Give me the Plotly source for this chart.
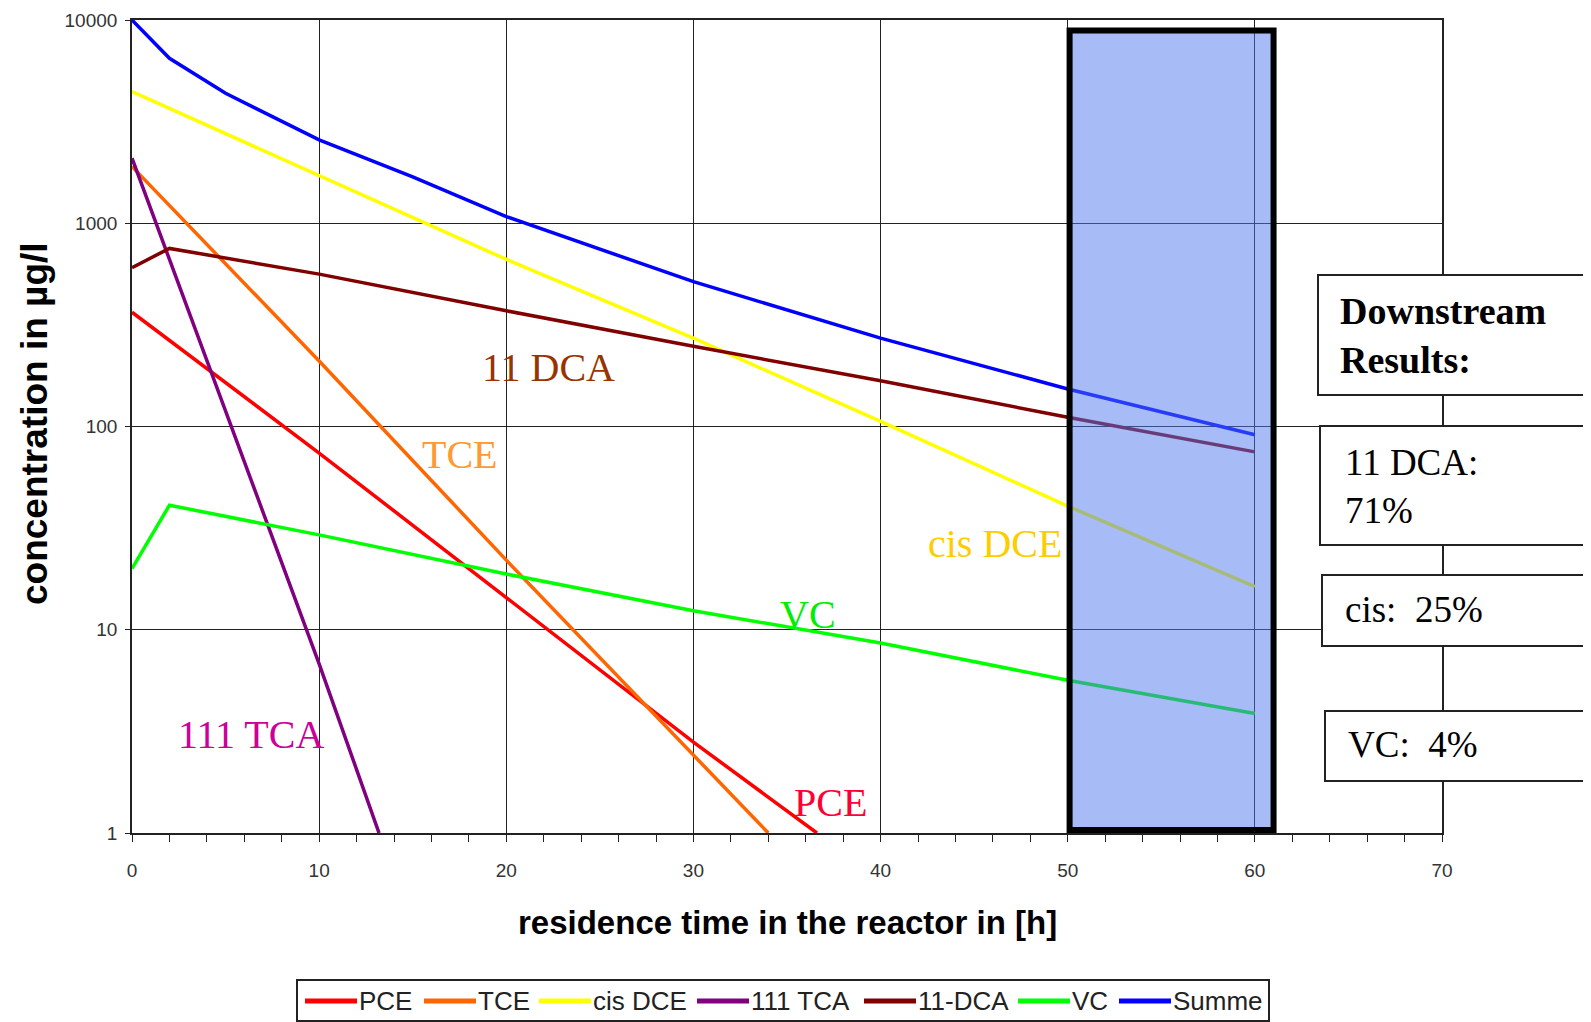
import plotly.graph_objects as go

# ---------------- data ----------------
pce_t = [0, 10, 20, 30, 36.6]
pce_c = [365, 74, 14.4, 2.8, 1.0]

tce_t = [0, 10, 20, 30, 34.0]
tce_c = [1900, 210, 22, 2.4, 1.0]

cis_t = [0, 10, 20, 30, 40, 50, 60]
cis_c = [4440, 1726, 664, 272, 106, 40.6, 16.3]

tca_t = [0, 5, 10, 13.2]
tca_c = [2090, 118, 6.8, 1.0]

dca_t = [0, 2, 10, 20, 30, 40, 50, 60]
dca_c = [605, 752, 562, 371, 248, 168, 111, 75]

vc_t = [0, 2, 10, 20, 30, 40, 50, 60]
vc_c = [20, 41, 29.3, 18.8, 12.4, 8.6, 5.64, 3.87]

sum_t = [0, 2, 5, 10, 15, 20, 30, 40, 50, 60]
sum_c = [10000, 6480, 4360, 2570, 1690, 1078, 516, 272, 153, 91]

series_names = ["PCE", "TCE", "cis DCE", "111 TCA", "11-DCA", "VC", "Summe"]
series_colors = ["#FF0000", "#FF6600", "#FFFF00", "#800080", "#800000", "#00FF00", "#0000FF"]

x_tick_vals = [0, 10, 20, 30, 40, 50, 60, 70]
y_tick_vals = [1, 10, 100, 1000, 10000]
y_tick_text = ["1", "10", "100", "1000", "10000"]

downstream_title = "Downstream<br>Results:"
result_texts = ["11 DCA:<br>71%", "cis:&nbsp;&nbsp;25%", "VC:&nbsp;&nbsp;4%"]

# ---------------- layout geometry ----------------
OFF = 8                       # page body margin of the html page
W, H = 1583, 1014
L, T = 124, 12
PW, PH = 1310, 813
R, B = W - L - PW, H - T - PH


def px(xp):
    """window pixel x -> paper x"""
    return (xp - OFF - L) / PW


def py(yp):
    """window pixel y -> paper y"""
    return (T + PH - (yp - OFF)) / PH


fig = go.Figure()
data = [(pce_t, pce_c), (tce_t, tce_c), (cis_t, cis_c), (tca_t, tca_c),
        (dca_t, dca_c), (vc_t, vc_c), (sum_t, sum_c)]
for (t, c), name, col in zip(data, series_names, series_colors):
    fig.add_trace(go.Scatter(x=t, y=c, mode="lines", name=name,
                             line=dict(color=col, width=3.5),
                             showlegend=False))

shapes = []
# downstream (shaded) zone
shapes.append(dict(type="rect", xref="x", yref="y", x0=50.1, x1=61.0, y0=1.035, y1=8870,
                   fillcolor="rgba(80,120,240,0.5)", line=dict(color="black", width=6),
                   layer="above"))

# result boxes on the right
boxes = [(1318, 1588, 275, 395), (1320, 1589, 426, 545), (1322, 1585, 575, 646), (1325, 1584, 711, 781)]
for x0, x1, y0, y1 in boxes:
    shapes.append(dict(type="rect", xref="paper", yref="paper", x0=px(x0), x1=px(x1),
                       y0=py(y1), y1=py(y0), fillcolor="white",
                       line=dict(color="#222", width=2), layer="above"))

annotations = []
serif = "Liberation Serif"
annotations.append(dict(xref="paper", yref="paper", x=px(1338), y=py(336), xanchor="left",
                        yanchor="middle", align="left", showarrow=False,
                        text="<b>" + downstream_title + "</b>",
                        font=dict(family=serif, size=38, color="black")))
annotations.append(dict(xref="paper", yref="paper", x=px(1343), y=py(486), xanchor="left",
                        yanchor="middle", align="left", showarrow=False, text=result_texts[0],
                        font=dict(family=serif, size=37, color="black")))
annotations.append(dict(xref="paper", yref="paper", x=px(1343), y=py(609), xanchor="left",
                        yanchor="middle", align="left", showarrow=False, text=result_texts[1],
                        font=dict(family=serif, size=37, color="black")))
annotations.append(dict(xref="paper", yref="paper", x=px(1346), y=py(744), xanchor="left",
                        yanchor="middle", align="left", showarrow=False, text=result_texts[2],
                        font=dict(family=serif, size=37, color="black")))

# in-plot series labels
labels = [("11 DCA", 548, 367, "#993300"), ("TCE", 460, 454, "#FF9933"),
          ("cis DCE", 995, 543, "#FFCC00"), ("VC", 808, 614, "#00EE00"),
          ("PCE", 830, 802, "#FF0033"), ("111 TCA", 251, 734, "#CC0099")]
for txt, xc, yc, col in labels:
    annotations.append(dict(xref="paper", yref="paper", x=px(xc), y=py(yc), xanchor="center",
                            yanchor="middle", showarrow=False, text=txt,
                            font=dict(family=serif, size=40, color=col)))

# axis titles
annotations.append(dict(xref="paper", yref="paper", x=px(34), y=py(424), textangle=-90,
                        xanchor="center", yanchor="middle", showarrow=False,
                        text="<b>concentration in µg/l</b>",
                        font=dict(family="Liberation Sans", size=37, color="black")))
annotations.append(dict(xref="paper", yref="paper", x=px(787), y=py(922),
                        xanchor="center", yanchor="middle", showarrow=False,
                        text="<b>residence time in the reactor in [h]</b>",
                        font=dict(family="Liberation Sans", size=33, color="black")))

# manual legend
shapes.append(dict(type="rect", xref="paper", yref="paper", x0=px(297), x1=px(1269),
                   y0=py(1021), y1=py(980), fillcolor="white",
                   line=dict(color="#222", width=2), layer="above"))
leg_line_x = [305, 424, 539, 697, 864, 1018, 1119]
leg_y = 1001
for name, col, lx in zip(series_names, series_colors, leg_line_x):
    shapes.append(dict(type="line", xref="paper", yref="paper", x0=px(lx), x1=px(lx + 52),
                       y0=py(leg_y), y1=py(leg_y), line=dict(color=col, width=5), layer="above"))
    annotations.append(dict(xref="paper", yref="paper", x=px(lx + 52), y=py(leg_y),
                            xanchor="left", yanchor="middle", showarrow=False, text=name,
                            font=dict(family="Liberation Sans", size=26, color="#222")))

fig.update_layout(
    width=W, height=H,
    margin=dict(l=L, r=R, t=T, b=B, pad=0, autoexpand=False),
    paper_bgcolor="white", plot_bgcolor="white",
    shapes=shapes, annotations=annotations,
    showlegend=False,
)
fig.update_xaxes(range=[0, 70], tickvals=x_tick_vals, showgrid=True, gridcolor="#222",
                 gridwidth=1.4, showline=True, linecolor="#222", linewidth=1.6, mirror=True,
                 ticks="outside", ticklen=7, tickwidth=1.4, tickcolor="#222",
                 ticklabelstandoff=12, zeroline=False, automargin=False,
                 minor=dict(dtick=2, ticks="outside", ticklen=7, tickwidth=1.4,
                            tickcolor="#222", showgrid=False),
                 tickfont=dict(family="Liberation Sans", size=19, color="#333"))
fig.update_yaxes(type="log", range=[0, 4], tickvals=y_tick_vals, ticktext=y_tick_text,
                 showgrid=True, gridcolor="#222", gridwidth=1.4, showline=True,
                 linecolor="#222", linewidth=1.6, mirror=True, ticks="outside", ticklen=5,
                 tickwidth=1.4, tickcolor="#222", ticklabelstandoff=4, zeroline=False,
                 automargin=False,
                 tickfont=dict(family="Liberation Sans", size=19, color="#333"))

fig.write_html("out.html")
